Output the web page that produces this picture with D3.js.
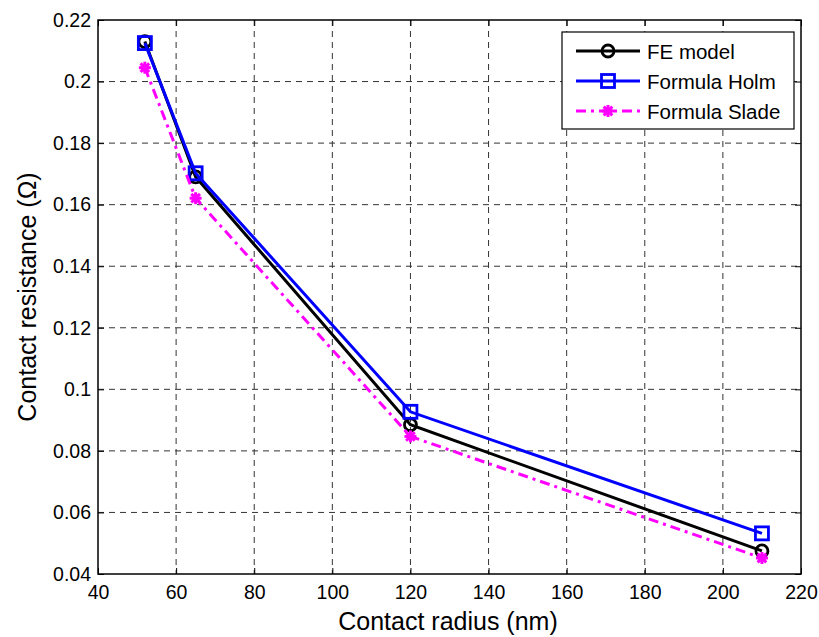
<!DOCTYPE html>
<html><head><meta charset="utf-8">
<script src="https://cdn.jsdelivr.net/npm/d3@7"></script>
<style>body{margin:0;background:#fff}svg{display:block}text{font-family:"Liberation Sans",Arial,sans-serif}</style>
</head><body><svg id="c" width="819" height="637"></svg>
<script>
const radius = [52, 65, 120, 210];
const feModel = [0.213, 0.169, 0.0885, 0.0475];
const holm = [0.2125, 0.1702, 0.0927, 0.0532];
const slade = [0.2045, 0.1621, 0.0847, 0.0452];
const xTicks = [40, 60, 80, 100, 120, 140, 160, 180, 200, 220];
const yTicks = [0.04, 0.06, 0.08, 0.1, 0.12, 0.14, 0.16, 0.18, 0.2, 0.22];
const seriesNames = ["FE model", "Formula Holm", "Formula Slade"];

const svg = d3.select("#c");
const L = 98, R = 801, T = 20, B = 574;
const x = d3.scaleLinear().domain([40, 220]).range([L, R]);
const y = d3.scaleLinear().domain([0.04, 0.22]).range([B, T]);
const fs = 19.5;

// grid
const g = svg.append("g");
xTicks.slice(1, -1).forEach(t => g.append("line").attr("x1", x(t)).attr("x2", x(t)).attr("y1", T).attr("y2", B)
  .attr("stroke", "#333").attr("stroke-width", 1).attr("stroke-dasharray", "6,5"));
yTicks.slice(1, -1).forEach(t => g.append("line").attr("x1", L).attr("x2", R).attr("y1", y(t)).attr("y2", y(t))
  .attr("stroke", "#333").attr("stroke-width", 1).attr("stroke-dasharray", "6,5"));

// axes with inward ticks
const ax = d3.axisBottom(x).tickValues(xTicks).tickSize(-6).tickPadding(11).tickFormat(d3.format("d"));
const ay = d3.axisLeft(y).tickValues(yTicks).tickSize(-6).tickPadding(7).tickFormat(d => d3.format("")(+d.toFixed(2)));
const axT = d3.axisTop(x).tickValues(xTicks).tickSize(-6).tickFormat("");
const ayR = d3.axisRight(y).tickValues(yTicks).tickSize(-6).tickFormat("");
function style(sel){
  sel.select(".domain").remove();
  sel.selectAll("line").attr("stroke", "#000").attr("stroke-width", 1);
  sel.selectAll("text").attr("font-size", fs).attr("fill", "#000").attr("font-family", '"Liberation Sans",Arial,sans-serif');
}
svg.append("g").attr("transform", `translate(0,${B})`).call(ax).call(style);
svg.append("g").attr("transform", `translate(${L},0)`).call(ay).call(style);
svg.append("g").attr("transform", `translate(0,${T})`).call(axT).call(style);
svg.append("g").attr("transform", `translate(${R},0)`).call(ayR).call(style);
svg.append("rect").attr("x", L).attr("y", T).attr("width", R - L).attr("height", B - T)
  .attr("fill", "none").attr("stroke", "#000").attr("stroke-width", 1.5);

// axis labels
svg.append("text").attr("x", 448).attr("y", 630).attr("text-anchor", "middle").attr("font-size", 25).text("Contact radius (nm)");
svg.append("text").attr("transform", `translate(36,${(T + B) / 2}) rotate(-90)`).attr("text-anchor", "middle").attr("font-size", 25).text("Contact resistance (Ω)");

const series = [
  {name: seriesNames[0], vals: feModel, color: "#000", dash: null, marker: "circle"},
  {name: seriesNames[1], vals: holm, color: "#0000ff", dash: null, marker: "square"},
  {name: seriesNames[2], vals: slade, color: "#ff00ff", dash: "10,5,3,5", marker: "star"}
];
function drawMarker(sel, type, color, cx, cy){
  if (type === "circle") sel.append("circle").attr("cx", cx).attr("cy", cy).attr("r", 6).attr("fill", "none").attr("stroke", color).attr("stroke-width", 2.8);
  else if (type === "square") sel.append("rect").attr("x", cx - 6.5).attr("y", cy - 6.5).attr("width", 13).attr("height", 13).attr("fill", "none").attr("stroke", color).attr("stroke-width", 2.8);
  else {
    const r = 6, d = r * 0.72;
    [[-r,0,r,0],[0,-r,0,r],[-d,-d,d,d],[-d,d,d,-d]].forEach(s => sel.append("line")
      .attr("x1", cx + s[0]).attr("y1", cy + s[1]).attr("x2", cx + s[2]).attr("y2", cy + s[3])
      .attr("stroke", color).attr("stroke-width", 3));
    sel.append("circle").attr("cx", cx).attr("cy", cy).attr("r", 4).attr("fill", color);
  }
}
const line = d3.line();
series.forEach(s => {
  const pts = radius.map((r, i) => [x(r), y(s.vals[i])]);
  svg.append("path").attr("d", line(pts)).attr("fill", "none").attr("stroke", s.color).attr("stroke-width", 3)
    .attr("stroke-dasharray", s.dash);
  const mg = svg.append("g");
  pts.forEach(p => drawMarker(mg, s.marker, s.color, p[0], p[1]));
});

// legend
const lg = svg.append("g");
lg.append("rect").attr("x", 562).attr("y", 32).attr("width", 232).attr("height", 97).attr("fill", "#fff").attr("stroke", "#000").attr("stroke-width", 1.2);
series.forEach((s, i) => {
  const ly = 51 + i * 30;
  lg.append("line").attr("x1", 576).attr("x2", 640).attr("y1", ly).attr("y2", ly).attr("stroke", s.color).attr("stroke-width", 3).attr("stroke-dasharray", s.dash);
  drawMarker(lg, s.marker, s.color, 608, ly);
  lg.append("text").attr("x", 647).attr("y", ly + 7.5).attr("font-size", 20.5).text(s.name);
});
</script></body></html>
